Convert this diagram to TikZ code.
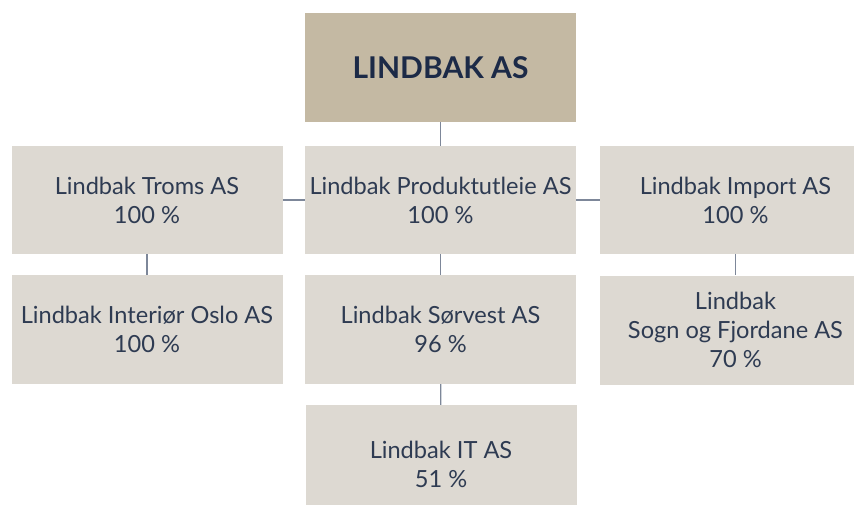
\documentclass[tikz,border=0pt]{standalone}
\usepackage{fontspec}
\setmainfont{Lato}
\usepackage{xcolor}
\usetikzlibrary{positioning}
\definecolor{sand}{HTML}{C4B9A3}
\definecolor{stone}{HTML}{DDD9D2}
\definecolor{navy}{HTML}{1C2A47}
\definecolor{slate}{HTML}{2E3B52}
\definecolor{wire}{HTML}{7D8799}

\begin{document}
\begin{tikzpicture}[x=1pt,y=-1pt,
  unit/.style={fill=stone,minimum width=271pt,minimum height=108pt,
    inner sep=0pt,align=center,text=slate,
    font=\fontsize{23.6}{29}\selectfont},
  parent/.style={unit,fill=sand,minimum height=109pt,text=navy,
    font=\fontsize{30}{34}\selectfont\bfseries},
  link/.style={draw=wire,line width=1.3pt}]
  \useasboundingbox (0,0) rectangle (854,504);
  \clip (0,0) rectangle (854,504);

  % group and first level
  \node[parent] (lindbak) at (440.5,67.5) {LINDBAK AS};
  \node[unit] (produkt) at (440.5,200) {Lindbak Produktutleie AS\\100 \%};
  \node[unit] (troms) at (147,200) {Lindbak Troms AS\\100 \%};
  \node[unit] (import) at (735.5,200) {Lindbak Import AS\\100 \%};

  % second and third level
  \node[unit,minimum height=109pt] (interior) at (147,329.5) {Lindbak Interiør Oslo AS\\100 \%};
  \node[unit,minimum height=109pt] (sorvest) at (440.5,329.5) {Lindbak Sørvest AS\\96 \%};
  \node[unit,minimum height=109pt] (sogn) at (735.5,330) {Lindbak\\Sogn og Fjordane AS\\70 \%};
  \node[unit,minimum height=119pt] (it) at (441,464.5) {Lindbak IT AS\\51 \%};

  \draw[link] (lindbak) -- (produkt);
  \draw[link] (troms) -- (produkt);
  \draw[link] (produkt) -- (import);
  \draw[link] (troms) -- (interior);
  \draw[link] (produkt) -- (sorvest);
  \draw[link] (import) -- (sogn);
  \draw[link] (sorvest) -- (it);
\end{tikzpicture}
\end{document}
